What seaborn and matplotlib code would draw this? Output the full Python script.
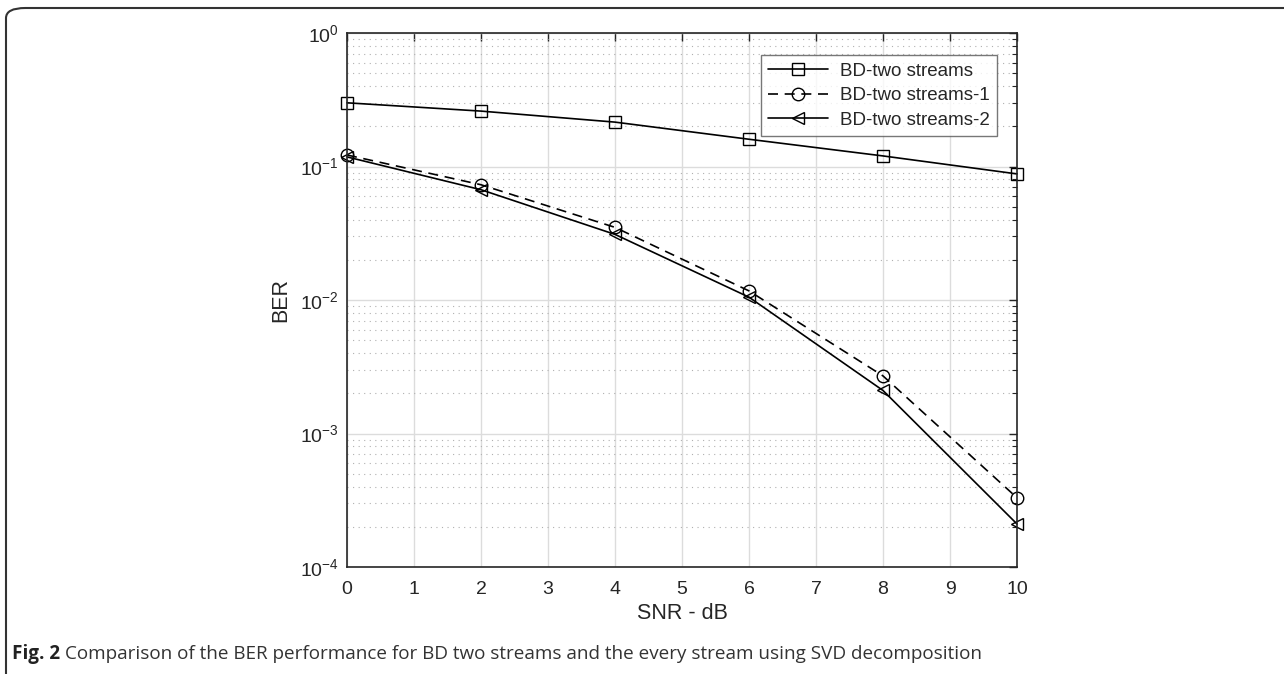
import math
import pandas as pd
import seaborn as sns
import matplotlib.pyplot as plt
from matplotlib.patches import FancyBboxPatch
from matplotlib.ticker import LogLocator, NullFormatter, FuncFormatter

# dados
snr = [0, 2, 4, 6, 8, 10]
ber_two = [0.30, 0.26, 0.215, 0.16, 0.12, 0.088]
ber_s1 = [0.122, 0.073, 0.035, 0.0117, 0.0027, 0.00033]
ber_s2 = [0.118, 0.067, 0.031, 0.0105, 0.0021, 0.00021]
names = ['BD-two streams', 'BD-two streams-1', 'BD-two streams-2']
xticks = list(range(0, 11))

df = pd.DataFrame({'SNR': snr * 3,
                   'BER': ber_two + ber_s1 + ber_s2,
                   'serie': [n for n in names for _ in snr]})

sns.set_style("white")
plt.rcParams['font.family'] = ['Liberation Sans', 'DejaVu Sans']
plt.rcParams['mathtext.fontset'] = 'custom'
plt.rcParams['mathtext.rm'] = 'Liberation Sans'
plt.rcParams['axes.unicode_minus'] = False

fig = plt.figure(figsize=(12.84, 6.74), dpi=100)
W, H = 1284, 674
ax = fig.add_axes([347 / W, 1 - 567 / H, 670 / W, 534 / H])

estilos = {'BD-two streams': ('-', 's'),
           'BD-two streams-1': ((0, (6, 4)), 'o'),
           'BD-two streams-2': ('-', '<')}
for n in names:
    ls, mk = estilos[n]
    sns.lineplot(data=df[df['serie'] == n], x='SNR', y='BER', ax=ax,
                 color='black', linestyle=ls, marker=mk, markersize=9,
                 markerfacecolor='none', markeredgecolor='black',
                 markeredgewidth=1.0, linewidth=1.2, label=n, clip_on=False)

ax.set_yscale('log')
ax.set_xlim(0, 10)
ax.set_ylim(1e-4, 1)
ax.set_xticks(xticks)
ax.yaxis.set_major_locator(LogLocator(base=10, numticks=10))
ax.yaxis.set_major_formatter(FuncFormatter(
    lambda v, p: r'$\mathregular{10^{%d}}$' % round(math.log10(v))))
ax.yaxis.set_minor_locator(LogLocator(base=10, subs=range(2, 10), numticks=20))
ax.yaxis.set_minor_formatter(NullFormatter())

ax.grid(True, which='major', color='#dcdcdc', linewidth=1.0, linestyle='-')
ax.grid(True, which='minor', axis='y', color='#b0b0b0', linewidth=0.8,
        linestyle=(0, (1, 4)))
ax.set_axisbelow(True)

for s in ax.spines.values():
    s.set_color('#262626')
    s.set_linewidth(1.2)
ax.tick_params(which='both', direction='in', top=True, right=True,
               colors='#262626', labelcolor='#262626', labelsize=14)
ax.tick_params(which='major', length=6, width=1.0, pad=10)
ax.tick_params(axis='y', which='major', pad=6)
ax.tick_params(which='minor', length=3.5, width=0.8)

ax.set_xlabel('SNR - dB', fontsize=15.5, color='#262626', labelpad=4)
ax.set_ylabel('BER', fontsize=15.5, color='#262626', labelpad=6)

leg = ax.legend(loc='upper right', bbox_to_anchor=(1 - 20 / 670, 1 - 22 / 534),
                borderaxespad=0, fontsize=13.5, frameon=True, fancybox=False,
                edgecolor='#555555', handlelength=3.2, borderpad=0.4,
                labelspacing=0.4, handletextpad=0.6)
leg.get_frame().set_linewidth(1.0)

# moldura arredondada
box = FancyBboxPatch((6 / W, -0.05), 1.2, 1 - 8 / H + 0.05,
                     boxstyle='round,pad=0,rounding_size=0.015',
                     transform=fig.transFigure, fill=False,
                     edgecolor='#333333', linewidth=1.5)
fig.patches.append(box)

t1 = fig.text(12 / W, 1 - 654 / H, 'Fig. 2', fontsize=13.55, fontweight='bold',
              family=['Open Sans', 'DejaVu Sans'], va='center', ha='left',
              color='#222222')
fig.canvas.draw()
bb = t1.get_window_extent()
fig.text((bb.x1 + 5) / W, 1 - 654 / H,
         'Comparison of the BER performance for BD two streams and the every '
         'stream using SVD decomposition', fontsize=13.55,
         family=['Open Sans', 'DejaVu Sans'], va='center', ha='left',
         color='#333333')

fig.savefig('out.png', dpi=100)
